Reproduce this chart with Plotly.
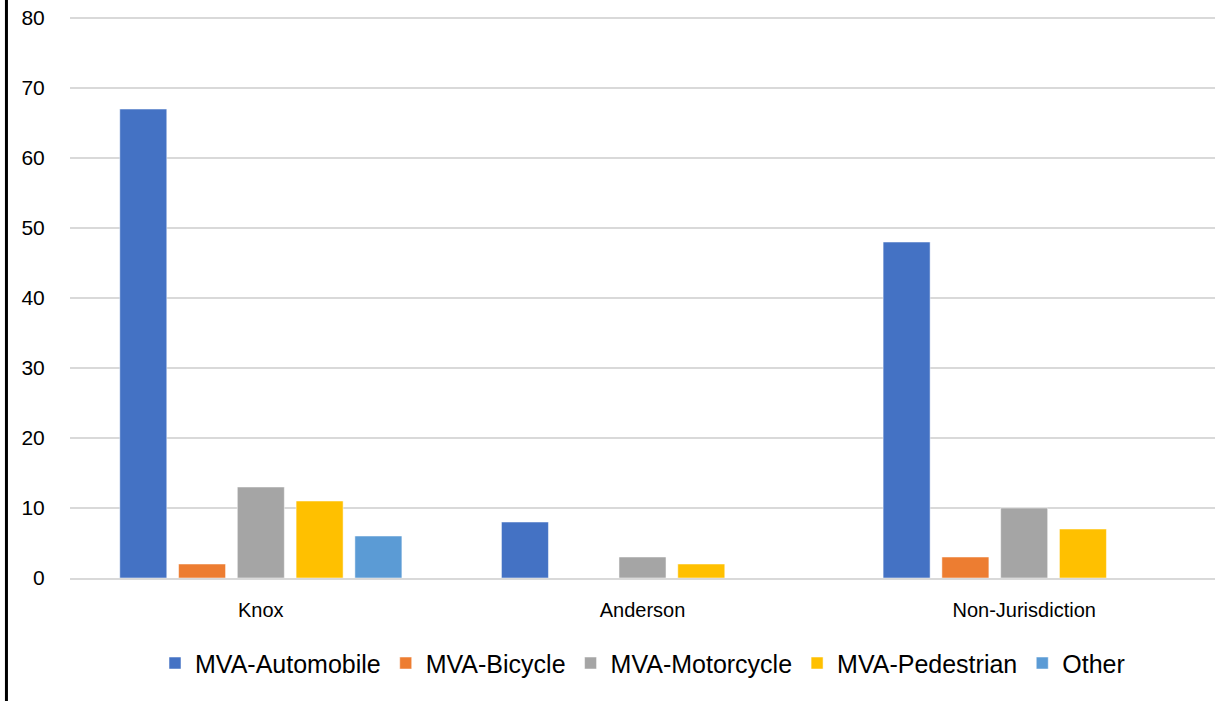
import plotly.graph_objects as go

categories = ["Knox", "Anderson", "Non-Jurisdiction"]
series_names = ["MVA-Automobile", "MVA-Bicycle", "MVA-Motorcycle", "MVA-Pedestrian", "Other"]
automobile = [67, 8, 48]
bicycle = [2, 0, 3]
motorcycle = [13, 3, 10]
pedestrian = [11, 2, 7]
other = [6, 0, 0]
colors = ["#4472C4", "#ED7D31", "#A5A5A5", "#FFC000", "#5B9BD5"]
y_ticks = [0, 10, 20, 30, 40, 50, 60, 70, 80]

FONT = "Liberation Sans, Arial, sans-serif"

fig = go.Figure()
for name, vals, col in zip(series_names, [automobile, bicycle, motorcycle, pedestrian, other], colors):
    fig.add_trace(go.Bar(
        x=categories, y=vals, name=name,
        marker=dict(color=col, line=dict(color="rgba(255,255,255,0.5)", width=1)),
    ))

fig.update_layout(
    width=1215, height=701,
    barmode="group", bargap=0.23, bargroupgap=0.2,
    paper_bgcolor="white", plot_bgcolor="white",
    margin=dict(l=70, r=0, t=17, b=123),
    font=dict(family=FONT, color="#000000"),
    showlegend=True,
    legend=dict(orientation="h", x=0.5, xanchor="center", y=-0.152, yanchor="middle",
                font=dict(size=25, family=FONT), itemwidth=30, traceorder="normal"),
    xaxis=dict(showgrid=False, showline=True, linecolor="#D9D9D9", linewidth=1.5,
               tickfont=dict(size=20), ticks="outside", ticklen=13, tickcolor="rgba(0,0,0,0)"),
    yaxis=dict(range=[0, 80.15], tickvals=y_ticks, showgrid=True, gridcolor="#D9D9D9", gridwidth=1.5,
               zeroline=False, showline=False, tickfont=dict(size=21),
               ticks="outside", ticklen=20, tickcolor="rgba(0,0,0,0)"),
    shapes=[dict(type="line", xref="paper", yref="paper",
                 x0=-0.0555, x1=-0.0555, y0=-0.3, y1=1.1,
                 line=dict(color="black", width=3))],
)

fig.write_html("out.html", config={"displayModeBar": False},
               post_script="document.body.style.margin='0px';")
